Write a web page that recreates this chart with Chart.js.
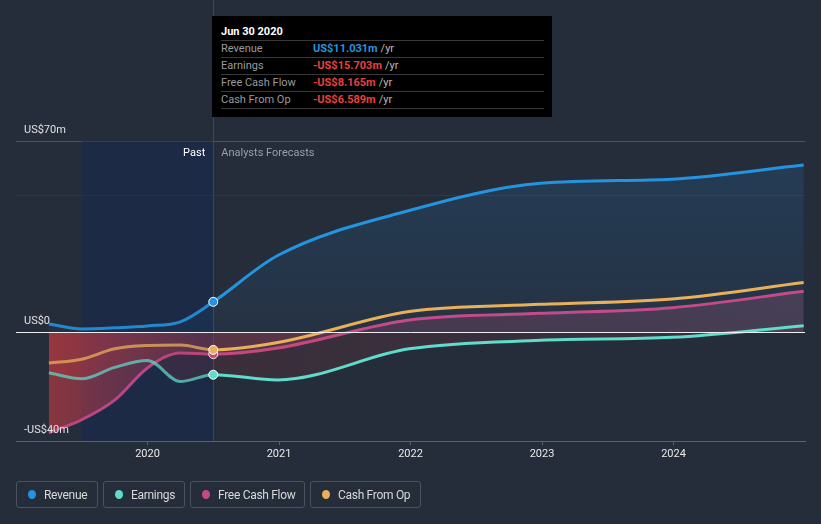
<!DOCTYPE html>
<html>
<head>
<meta charset="utf-8">
<script src="https://cdn.jsdelivr.net/npm/chart.js@4"></script>
<style>
body{margin:0;background:#262d3a;font-family:Roboto,"Open Sans",sans-serif;}
#wrap{position:relative;width:821px;height:524px;background:#262d3a;}
#tip{position:absolute;left:212px;top:16px;width:340px;height:101px;background:#000;box-sizing:border-box;padding:7px 8px 0 9px;font-size:11px;}
#tip .t{color:#fff;font-weight:bold;height:17px;line-height:17px;border-bottom:1px solid #3a3a3a;}
#tip .r{height:16px;line-height:16px;border-bottom:1px solid #3a3a3a;color:#9a9a9a;display:flex;}
#tip .r span.l{width:92px;}
#tip .v{font-weight:bold;}
#tip .u{color:#bbb;margin-left:3px;}
#legend{position:absolute;left:16px;top:481px;display:flex;gap:5px;}
#legend div{box-sizing:border-box;border:1px solid #4a5262;border-radius:3px;height:27px;padding:0 0 0 11px;color:#d8d8d8;font-size:12px;letter-spacing:-0.3px;display:flex;align-items:center;white-space:nowrap;}
#legend i{display:inline-block;width:8px;height:9px;border-radius:50%;margin-right:8px;}
</style>
</head>
<body>
<div id="wrap">
<canvas id="c" width="821" height="524"></canvas>
<div id="tip"></div>
<div id="legend"></div>
</div>
<script>
// quarterly history, then yearly analyst forecasts
const years = [2019.25, 2019.5, 2019.75, 2020.0, 2020.25, 2020.5, 2020.99, 2021.99, 2022.99, 2023.99, 2024.99];
const revenue = [2.9, 1.1, 1.5, 2.2, 3.7, 11.031, 28.0, 44.5, 54.5, 56.0, 61.2];
const earnings = [-15.0, -17.2, -13.0, -10.5, -18.2, -15.703, -17.6, -6.2, -3.1, -2.0, 2.3];
const freeCashFlow = [-37.0, -32.2, -25.0, -13.2, -7.7, -8.165, -5.9, 4.4, 6.8, 8.9, 14.9];
const cashFromOp = [-11.4, -10.0, -6.2, -5.0, -4.8, -6.589, -3.9, 7.5, 10.1, 12.1, 18.1];
const xTicks = [2020, 2021, 2022, 2023, 2024];
const yLabels = [70, 0, -40];
const pastStart = 2019.5, pastEnd = 2020.5;
const names = ["Revenue", "Earnings", "Free Cash Flow", "Cash From Op"];
const colors = ["#2394df", "#5fdccb", "#c54a8a", "#e8b05a"];
const pastColors = ["rgba(35,148,223,0.9)", "rgba(95,220,203,0.72)", "rgba(197,74,138,0.9)", "rgba(232,176,90,0.75)"];
const legendWidths = [82, 82, 115, 111];

const markIdx = years.indexOf(pastEnd);

function fmt(v) {
  return (v < 0 ? "-US$" : "US$") + Math.abs(v).toFixed(3) + "m";
}

// tooltip box
const tip = document.getElementById("tip");
let h = '<div class="t">Jun 30 2020</div>';
[revenue, earnings, freeCashFlow, cashFromOp].forEach((s, i) => {
  const v = s[markIdx];
  h += '<div class="r"><span class="l">' + names[i] + '</span><span class="v" style="color:' +
    (v < 0 ? "#e8413e" : "#2394df") + '">' + fmt(v) + '</span><span class="u">/yr</span></div>';
});
tip.innerHTML = h;

// legend
document.getElementById("legend").innerHTML = names.map((n, i) =>
  '<div style="width:' + legendWidths[i] + 'px"><i style="background:' + colors[i] + '"></i>' + n + '</div>').join("");

function pts(s) { return years.map((x, i) => ({x: x, y: s[i]})); }

function hGrad(stops) {
  return (c) => {
    const {ctx, chartArea} = c.chart;
    if (!chartArea) return "transparent";
    const g = ctx.createLinearGradient(chartArea.left, 0, chartArea.right, 0);
    stops.forEach(s => g.addColorStop(s[0], s[1]));
    return g;
  };
}

const revFill = (c) => {
  const {ctx, chartArea, scales} = c.chart;
  if (!chartArea) return "transparent";
  const g = ctx.createLinearGradient(0, chartArea.top, 0, scales.y.getPixelForValue(0));
  g.addColorStop(0, "rgba(33,150,243,0.16)");
  g.addColorStop(1, "rgba(33,150,243,0.05)");
  return g;
};

const overlay = {
  id: "overlay",
  beforeDatasetsDraw(chart) {
    const {ctx, chartArea, scales} = chart;
    const x0 = scales.x.getPixelForValue(pastStart);
    const x1 = scales.x.getPixelForValue(pastEnd);
    ctx.save();
    ctx.fillStyle = "rgba(18,40,80,0.5)";
    ctx.fillRect(x0, chartArea.top, x1 - x0, chartArea.bottom - chartArea.top);
    ctx.strokeStyle = "rgba(45,95,160,0.6)";
    ctx.lineWidth = 1;
    ctx.beginPath();
    ctx.moveTo(Math.round(x1) + 0.5, 0);
    ctx.lineTo(Math.round(x1) + 0.5, chartArea.bottom);
    ctx.stroke();
    ctx.font = "11px Roboto";
    ctx.textBaseline = "middle";
    ctx.textAlign = "right";
    ctx.fillStyle = "#ffffff";
    ctx.fillText("Past", x1 - 8, chartArea.top + 12);
    ctx.textAlign = "left";
    ctx.fillStyle = "#9a9ea8";
    ctx.fillText("Analysts Forecasts", x1 + 8, chartArea.top + 12);
    ctx.restore();
  },
  afterDatasetsDraw(chart) {
    const {ctx, chartArea, scales} = chart;
    const y0 = Math.round(scales.y.getPixelForValue(0)) + 0.5;
    ctx.save();
    ctx.strokeStyle = "#eeeeee";
    ctx.lineWidth = 1;
    ctx.beginPath();
    ctx.moveTo(chartArea.left, y0);
    ctx.lineTo(chartArea.right, y0);
    ctx.stroke();
    ctx.font = "11px Roboto";
    ctx.fillStyle = "#e0e0e0";
    ctx.textBaseline = "bottom";
    ctx.textAlign = "left";
    yLabels.forEach(v => {
      const t = v === 0 ? "US$0" : (v < 0 ? "-US$" : "US$") + Math.abs(v) + "m";
      ctx.fillText(t, chartArea.left + 8, scales.y.getPixelForValue(v) - 5);
    });
    ctx.restore();
  }
};

function ds(i, data, fill, bg, order) {
  return {
    label: names[i],
    data: pts(data),
    borderColor: colors[i],
    borderWidth: 3,
    backgroundColor: bg,
    fill: fill,
    cubicInterpolationMode: "monotone",
    segment: {borderColor: (s) => s.p1.parsed.x <= pastEnd ? pastColors[i] : undefined},
    pointRadius: (c) => c.dataIndex === markIdx ? 4.5 : 0,
    pointBackgroundColor: colors[i],
    pointBorderColor: "#ffffff",
    pointBorderWidth: 1,
    order: order
  };
}

new Chart(document.getElementById("c"), {
  type: "line",
  data: {
    datasets: [
      ds(0, revenue, "origin", revFill, 4),
      ds(1, earnings, "origin",
        hGrad([[0, "rgba(200,55,60,0.25)"], [0.25, "rgba(190,60,70,0.14)"], [1, "rgba(190,60,70,0.1)"]]), 1),
      ds(2, freeCashFlow, "origin",
        hGrad([[0, "rgba(230,60,60,0.6)"], [0.25, "rgba(190,70,110,0.22)"], [1, "rgba(200,110,150,0.2)"]]), 2),
      ds(3, cashFromOp, false, "transparent", 0)
    ]
  },
  options: {
    responsive: false,
    animation: false,
    layout: {padding: {left: 16, right: 16, top: 141, bottom: 59}},
    plugins: {legend: {display: false}, tooltip: {enabled: false}},
    scales: {
      x: {
        type: "linear",
        min: 2019,
        max: 2025,
        afterBuildTicks: (s) => { s.ticks = xTicks.map(v => ({value: v})); },
        afterFit: (s) => { s.height = 24; },
        ticks: {color: "#e8e8e8", font: {family: "Roboto", size: 11}, padding: 3,
          callback: (v) => String(v)},
        grid: {drawOnChartArea: false, tickLength: 4, color: "#5a6070"},
        border: {color: "#5a6070"}
      },
      y: {
        min: -40,
        max: 70,
        afterBuildTicks: (s) => { s.ticks = [-40, 0, 50, 70].map(v => ({value: v})); },
        afterFit: (s) => { s.width = 0; },
        ticks: {display: false},
        grid: {
          drawTicks: false,
          color: (c) => c.tick.value === 70 ? "#4b5262" : (c.tick.value === 50 ? "#303848" : "transparent")
        },
        border: {display: false}
      }
    }
  },
  plugins: [overlay]
});
</script>
</body>
</html>
